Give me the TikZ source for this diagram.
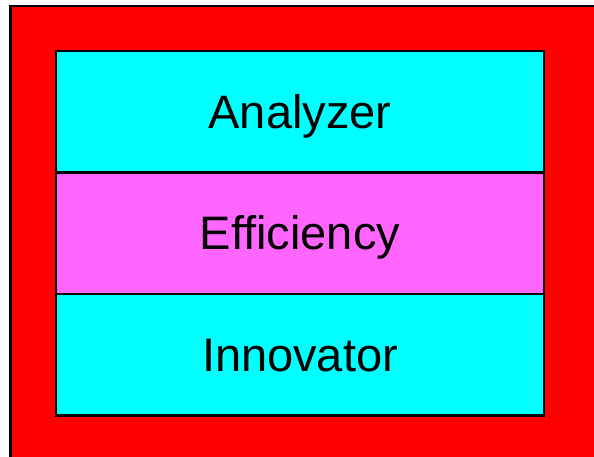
\documentclass[tikz,border=0pt]{standalone}
\usepackage{fontspec}
\setmainfont{Liberation Sans}
\usetikzlibrary{positioning}
\definecolor{layercyan}{RGB}{0,255,255}
\definecolor{layerpink}{RGB}{255,102,255}

\begin{document}
\begin{tikzpicture}[x=1pt,y=1pt,node distance=0pt,
	layer/.style={draw,line width=2.5pt,outer sep=0pt,inner sep=0pt,
		minimum width=488pt,minimum height=121.5pt,
		text height=33pt,text depth=0pt,font=\fontsize{47}{50}\selectfont}]
		\clip (0,0) rectangle (594,-457);
		\draw[line width=2.5pt,fill=red] (10.5,-6) rectangle (610,-470);
		\node[layer,fill=layercyan] (analyzer) at (300,-111.75) {Analyzer};
		\node[layer,fill=layerpink] (efficiency) [below=of analyzer] {Efficiency};
		\node[layer,fill=layercyan] (innovator) [below=of efficiency] {Innovator};
	\end{tikzpicture}
\end{document}
